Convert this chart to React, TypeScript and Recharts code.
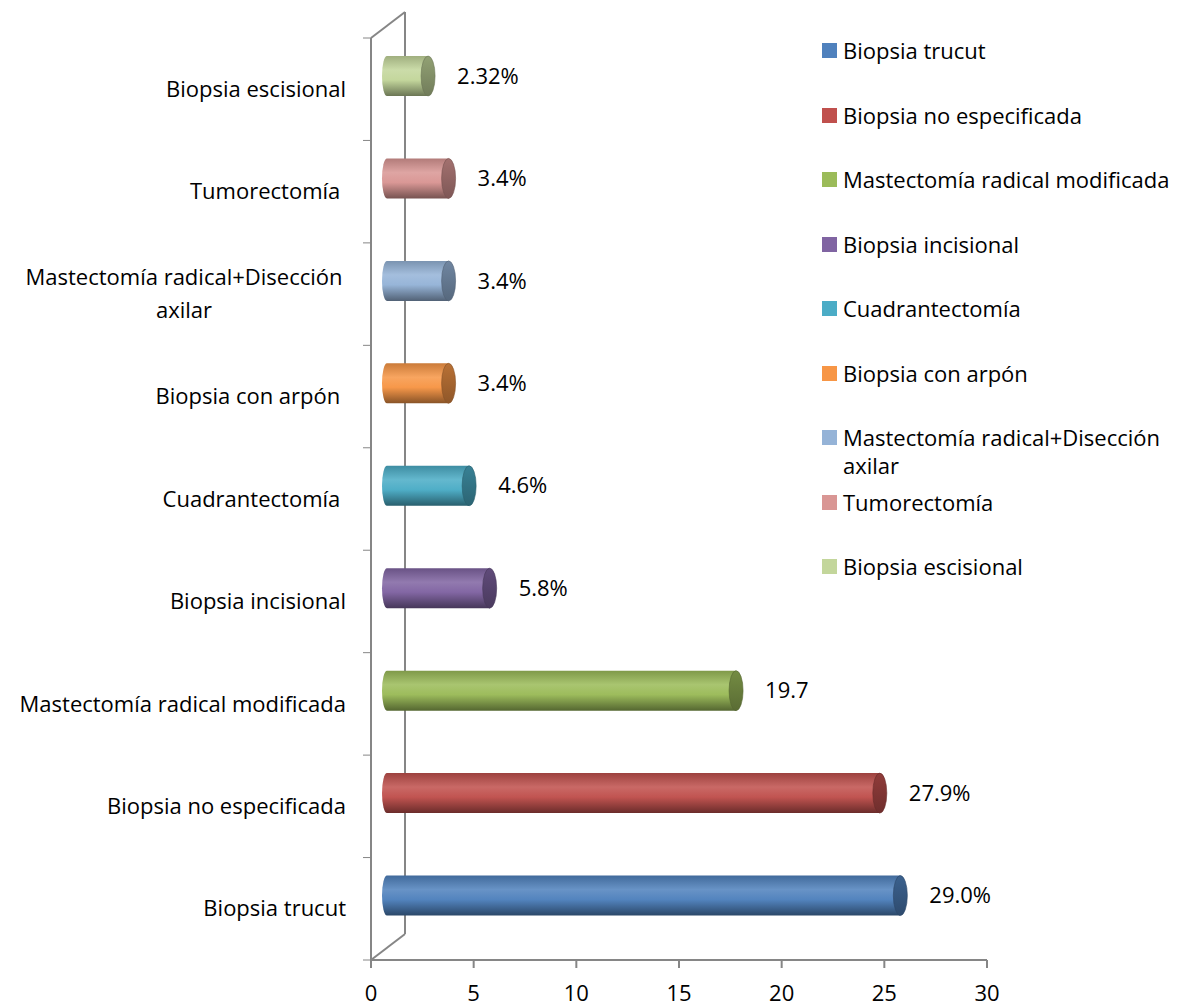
import React from "react";
import { BarChart, Bar, XAxis, YAxis, LabelList, Legend, Customized } from "recharts";

// order: first item is drawn at the bottom (axis reversed)
const categories = [
  "Biopsia trucut",
  "Biopsia no especificada",
  "Mastectomía radical modificada",
  "Biopsia incisional",
  "Cuadrantectomía ",
  "Biopsia con arpón ",
  "Mastectomía radical+Disección axilar",
  "Tumorectomía ",
  "Biopsia escisional",
];
const counts = [25, 24, 17, 5, 4, 3, 3, 3, 2];
const pctLabels = ["29.0%", "27.9%", "19.7", "5.8%", "4.6%", "3.4%", "3.4%", "3.4%", "2.32%"];
const colors = ["#4F81BD", "#C0504D", "#9BBB59", "#8064A2", "#4BACC6", "#F79646", "#95B3D7", "#D99694", "#C3D69B"];
const xTicks = [0, 5, 10, 15, 20, 25, 30];

const data = categories.map((name, i) => ({ name, value: counts[i], label: pctLabels[i] }));

const W = 1193;
const H = 1008;
const LEFT = 371;
const RIGHT = 987;
const TOP = 38;
const BOTTOM = 960;
const DEPTH_X = 34;
const DEPTH_Y = 26;
const DX = 16; // bars sit halfway into the depth
const DY = -13;
const AXIS = "#868686";
const FONT = "'Open Sans', sans-serif";
const FS = 22;

function shade(hex: string, amt: number) {
  const n = parseInt(hex.slice(1), 16);
  const ch = [(n >> 16) & 255, (n >> 8) & 255, n & 255].map((v) => {
    const t = amt < 0 ? 0 : 255;
    const p = Math.abs(amt);
    return Math.round(v + (t - v) * p);
  });
  return "#" + ch.map((v) => v.toString(16).padStart(2, "0")).join("");
}

const Cylinder = (props: any) => {
  const { x, y, width, height, index } = props;
  const c = colors[index];
  const h = 40;
  const cy = y + height / 2 + DY;
  const x0 = x + DX;
  const x1 = x + width + DX;
  const top = cy - h / 2;
  const bot = cy + h / 2;
  const rx = 7;
  const lrx = 5;
  const d = `M${x0},${top} L${x1},${top} L${x1},${bot} L${x0},${bot} A${lrx},${h / 2} 0 0 1 ${x0},${top} Z`;
  return (
    <g>
      <path d={d} fill={`url(#body${index})`} />
      <ellipse cx={x1} cy={cy} rx={rx} ry={h / 2} fill={`url(#cap${index})`} stroke={shade(c, -0.45)} strokeWidth={0.6} />
    </g>
  );
};

const BarLabel = (props: any) => {
  const { x, y, width, height, index } = props;
  return (
    <text
      x={x + width + DX + 29}
      y={y + height / 2 + DY}
      dy="0.35em"
      fontSize={FS}
      fontFamily={FONT}
      fill="#000"
    >
      {pctLabels[index]}
    </text>
  );
};

const band = (BOTTOM - TOP) / categories.length;

const CatTick = (props: any) => {
  const { y, payload, index } = props;
  const text: string = payload.value;
  let lines = [text];
  if (text.trim().length > 32) {
    const k = text.lastIndexOf(" ");
    lines = [text.slice(0, k), text.slice(k + 1)];
  }
  return (
    <g>
      <line x1={LEFT - 8} x2={LEFT} y1={y - band / 2} y2={y - band / 2} stroke={AXIS} />
      {index === 0 && <line x1={LEFT - 8} x2={LEFT} y1={y + band / 2} y2={y + band / 2} stroke={AXIS} />}
      {lines.length === 1 ? (
        <text x={346} y={y} dy="0.35em" textAnchor="end" fontSize={FS} fontFamily={FONT} fill="#000" style={{ whiteSpace: "pre" }}>
          {lines[0]}
        </text>
      ) : (
        lines.map((l, i) => (
          <text key={i} x={184} y={y + (i - 0.5) * 33} dy="0.35em" textAnchor="middle" fontSize={FS} fontFamily={FONT} fill="#000">
            {l}
          </text>
        ))
      )}
    </g>
  );
};

const Walls = () => (
  <g stroke={AXIS} strokeWidth={2} fill="none">
    <line x1={LEFT} y1={TOP} x2={LEFT + DEPTH_X} y2={TOP - DEPTH_Y} />
    <line x1={LEFT + DEPTH_X} y1={TOP - DEPTH_Y} x2={LEFT + DEPTH_X} y2={BOTTOM - DEPTH_Y} />
    <line x1={LEFT} y1={BOTTOM} x2={LEFT + DEPTH_X} y2={BOTTOM - DEPTH_Y} />
  </g>
);

const LegendBox = () => (
  <div style={{ fontFamily: FONT, fontSize: FS, color: "#000" }}>
    {categories.map((c, i) => (
      <div key={i} style={{ height: 64.5, display: "flex", alignItems: "flex-start" }}>
        <div style={{ width: 15, height: 15, background: colors[i], marginTop: 7, marginRight: 6, flex: "none" }} />
        <div style={{ lineHeight: "28px", width: 345 }}>{c.trim()}</div>
      </div>
    ))}
  </div>
);

export default function App() {
  return (
    <div style={{ position: "absolute", left: 0, top: 0, width: W, height: H, background: "#fff" }}>
      <BarChart
        width={W}
        height={H}
        data={data}
        layout="vertical"
        margin={{ top: TOP, right: W - RIGHT, bottom: 0, left: 0 }}
      >
        <defs>
          {colors.map((c, i) => (
            <linearGradient key={"b" + i} id={`body${i}`} x1="0" y1="0" x2="0" y2="1">
              <stop offset="0%" stopColor={shade(c, -0.18)} />
              <stop offset="35%" stopColor={shade(c, 0.14)} />
              <stop offset="60%" stopColor={shade(c, 0.02)} />
              <stop offset="100%" stopColor={shade(c, -0.45)} />
            </linearGradient>
          ))}
          {colors.map((c, i) => (
            <linearGradient key={"c" + i} id={`cap${i}`} x1="0" y1="0" x2="0" y2="1">
              <stop offset="0%" stopColor={shade(c, -0.25)} />
              <stop offset="100%" stopColor={shade(c, -0.42)} />
            </linearGradient>
          ))}
        </defs>
        <Customized component={Walls} />
        <XAxis
          type="number"
          domain={[0, 30]}
          ticks={xTicks}
          height={H - BOTTOM}
          stroke={AXIS}
          axisLine={{ stroke: AXIS, strokeWidth: 2 }}
          tickLine={{ stroke: AXIS, strokeWidth: 2 }}
          tickSize={8}
          tickMargin={17}
          tick={{ fontSize: FS, fill: "#000", fontFamily: FONT }}
        />
        <YAxis
          type="category"
          dataKey="name"
          reversed
          width={LEFT}
          axisLine={{ stroke: AXIS, strokeWidth: 2 }}
          tickLine={false}
          tick={<CatTick />}
          interval={0}
        />
        <Legend
          layout="vertical"
          align="center"
          verticalAlign="middle"
          wrapperStyle={{ left: 822, top: 36, width: 371 }}
          content={<LegendBox />}
        />
        <Bar dataKey="value" barSize={40} shape={<Cylinder />} isAnimationActive={false}>
          <LabelList dataKey="label" content={<BarLabel />} />
        </Bar>
      </BarChart>
    </div>
  );
}
